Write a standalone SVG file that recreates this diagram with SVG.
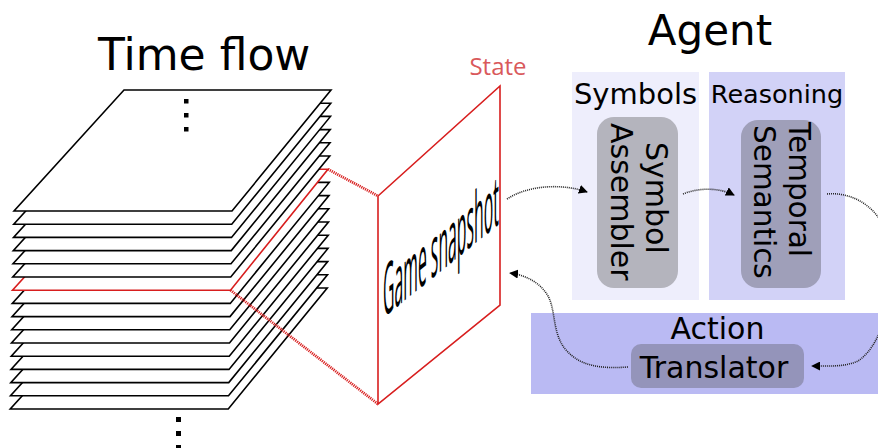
<svg xmlns="http://www.w3.org/2000/svg" width="878" height="448" viewBox="0 0 878 448">
<style>
.lay{fill:#fff;stroke:#000;stroke-width:1.6;stroke-linejoin:miter}
.red{stroke:#d81e1e}
.ttl{font-family:"DejaVu Sans",sans-serif;fill:#000}
.conn{fill:none;stroke:#222;stroke-width:1.6;stroke-dasharray:1 1}
.rdot{fill:none;stroke:#d81e1e;stroke-width:2.8;stroke-dasharray:1.2 0.9}
.dot{fill:#000}
</style>
<defs>
<marker id="ah" viewBox="0 0 10 10" refX="9" refY="5" markerWidth="9" markerHeight="9" orient="auto" markerUnits="userSpaceOnUse">
<path d="M0,0 L10,5 L0,10 z" fill="#000"/>
</marker>
</defs>
<rect width="878" height="448" fill="#fff"/>

<g id="timeflow-title"><text class="ttl" x="98" y="70" font-size="44">Time flow</text></g>

<g id="stack">
<polygon class="lay" points="120.25,288 327.25,288 228.25,409 10.25,409"/>
<polygon class="lay" points="120.5,274.8 327.5,274.8 228.5,395.8 10.5,395.8"/>
<polygon class="lay" points="120.75,261.6 327.75,261.6 228.75,382.6 10.75,382.6"/>
<polygon class="lay" points="121,248.4 328,248.4 229,369.4 11,369.4"/>
<polygon class="lay" points="121.25,235.2 328.25,235.2 229.25,356.2 11.25,356.2"/>
<polygon class="lay" points="121.5,222 328.5,222 229.5,343 11.5,343"/>
<polygon class="lay" points="121.75,208.8 328.75,208.8 229.75,329.8 11.75,329.8"/>
<polygon class="lay" points="122,195.6 329,195.6 230,316.6 12,316.6"/>
<polygon class="lay" points="122.25,182.4 329.25,182.4 230.25,303.4 12.25,303.4"/>
<polygon class="lay red" points="122.5,169.2 328,169.2 230.5,290.2 12.5,290.2"/>
<polygon class="lay" points="122.75,156 329.75,156 230.75,277 12.75,277"/>
<polygon class="lay" points="123,142.8 330,142.8 231,263.8 13,263.8"/>
<polygon class="lay" points="123.25,129.6 330.25,129.6 231.25,250.6 13.25,250.6"/>
<polygon class="lay" points="123.5,116.4 330.5,116.4 231.5,237.4 13.5,237.4"/>
<polygon class="lay" points="123.75,103.2 330.75,103.2 231.75,224.2 13.75,224.2"/>
<polygon class="lay" points="124,90 331,90 232,211 14,211"/>
<rect class="dot" x="184" y="99" width="4.5" height="4.5"/>
<rect class="dot" x="184" y="113" width="4.5" height="4.5"/>
<rect class="dot" x="184" y="127" width="4.5" height="4.5"/>
<rect class="dot" x="176" y="417" width="5" height="5"/>
<rect class="dot" x="176" y="431" width="5" height="5"/>
<rect class="dot" x="176" y="445" width="5" height="5"/>
</g>

<g id="state">
<line class="rdot" x1="328" y1="169.2" x2="378" y2="196"/>
<line class="rdot" x1="230.5" y1="290.2" x2="378" y2="404"/>
<polygon points="378,196 500,86 500,305 378,404" fill="#fff" stroke="#d81e1e" stroke-width="1.6"/>
<text x="498" y="75" font-family="Open Sans, sans-serif" font-size="24" fill="#d9595b" text-anchor="middle">State</text>
<text transform="matrix(0.395,-0.32,0,1.78,383,318)" font-family="Open Sans, sans-serif" font-size="40" fill="#000">Game snapshot</text>
</g>

<g id="agent-title"><text class="ttl" x="710" y="45" font-size="42" text-anchor="middle">Agent</text></g>

<g id="symbols-panel">
<rect x="572" y="72" width="127" height="228" fill="#eeeefc"/>
<text class="ttl" x="635.5" y="104" font-size="29" text-anchor="middle">Symbols</text>
</g>

<g id="reasoning-panel">
<rect x="709" y="72" width="136" height="228" fill="#d2d2f7"/>
<text class="ttl" x="777" y="103" font-size="25.5" text-anchor="middle">Reasoning</text>
</g>

<g id="symbol-assembler">
<rect x="597" y="117" width="81" height="171" rx="17" fill="#b4b4bd"/>
<text class="ttl" font-size="30" transform="translate(646,142) rotate(90)">Symbol</text>
<text class="ttl" font-size="30" transform="translate(611,123) rotate(90)">Assembler</text>
</g>

<g id="temporal-semantics">
<rect x="741" y="120" width="80" height="168" rx="17" fill="#9f9fb9"/>
<text class="ttl" font-size="29.5" transform="translate(789,122) rotate(90)">Temporal</text>
<text class="ttl" font-size="29.5" transform="translate(754,125) rotate(90)">Semantics</text>
</g>

<g id="action-panel">
<rect x="531" y="313" width="347" height="81" fill="#babaf3"/>
<text class="ttl" x="717.5" y="339" font-size="30" text-anchor="middle">Action</text>
</g>

<g id="action-translator">
<rect x="631" y="344" width="173" height="44" rx="10" fill="#9494ba"/>
<text class="ttl" x="714" y="378" font-size="30" text-anchor="middle">Translator</text>
</g>

<g id="connectors">
<path class="conn" d="M507,199 C530,184 565,184 587,192" marker-end="url(#ah)"/>
<path class="conn" d="M683,194 C700,187 720,188 734,195" marker-end="url(#ah)"/>
<path class="conn" d="M827,194 C848,192 872,202 885,228 L888,300 C884,330 872,352 858,361 C845,367 830,366 812,366" marker-end="url(#ah)"/>
<path class="conn" d="M628,367 C600,369 580,366 566,350 C552,334 556,310 548,296 C540,282 525,275 510,273" marker-end="url(#ah)"/>
</g>
</svg>
